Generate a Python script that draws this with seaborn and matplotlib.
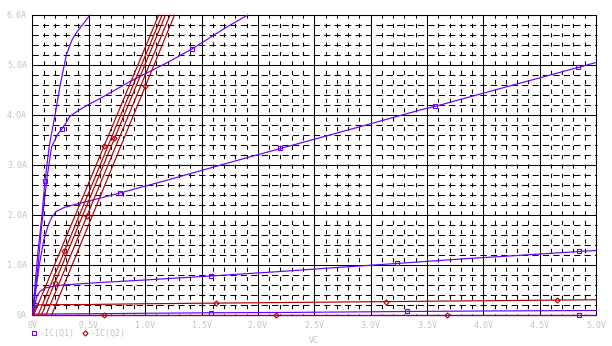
import matplotlib
matplotlib.use("Agg")
import matplotlib.pyplot as plt
from matplotlib.lines import Line2D
import numpy as np
import pandas as pd
import seaborn as sns

BLUE = "#6a00ff"
RED = "#b00000"
GREY = "#c4c4c4"

# -IC(Q1) traces (V, A)
q1_a_v = [0, 0.01, 0.03, 0.05, 0.08, 0.11, 0.15, 0.2, 0.25, 0.3, 0.35, 0.4, 0.45, 0.51]
q1_a_i = [0, 0.25, 0.8, 1.3, 1.9, 2.67, 3.4, 4.0, 4.65, 5.2, 5.5, 5.68, 5.82, 6.0]
q1_b_v = [0, 0.02, 0.05, 0.08, 0.126, 0.17, 0.22, 0.26, 0.3, 0.33, 0.4, 0.49, 0.6,
          0.865, 1.19, 1.415, 1.71, 1.91]
q1_b_i = [0, 0.4, 1.0, 1.77, 2.7, 3.37, 3.6, 3.72, 3.85, 3.97, 4.08, 4.2, 4.33,
          4.67, 5.04, 5.32, 5.74, 6.0]
q1_c_v = [0, 0.03, 0.06, 0.1, 0.14, 0.17, 0.21, 0.28, 0.36, 0.5, 0.776, 1.2, 1.75,
          2.2, 2.8, 3.44, 3.57, 4.2, 4.84, 5.0]
q1_c_i = [0, 0.5, 1.0, 1.5, 1.8, 1.95, 2.07, 2.15, 2.2, 2.28, 2.44, 2.7, 3.05,
          3.33, 3.7, 4.1, 4.17, 4.56, 4.95, 5.05]
q1_d_v = [0, 0.02, 0.04, 0.066, 0.11, 0.2, 0.27, 0.6, 1.0, 1.58, 2.2, 2.7, 3.23,
          3.8, 4.3, 4.85, 5.0]
q1_d_i = [0, 0.2, 0.38, 0.47, 0.54, 0.58, 0.6, 0.65, 0.7, 0.78, 0.87, 0.95, 1.03,
          1.12, 1.19, 1.27, 1.29]
q1_e_v = [0, 0.03, 0.1, 0.5, 1.58, 2.2, 3.32, 4.0, 5.0]
q1_e_i = [0, 0.02, 0.02, 0.025, 0.045, 0.05, 0.07, 0.08, 0.09]
q1_f_v = [0, 5.0]
q1_f_i = [0, 0]

# -IC(Q2) traces (V, A)
q2_r1_v, q2_r1_i = [0.01, 1.12], [0, 6]
q2_r2_v, q2_r2_i = [0.05, 1.15], [0, 6]
q2_r3_v, q2_r3_i = [0.08, 1.18], [0, 6]
q2_r4_v, q2_r4_i = [0.12, 1.22], [0, 6]
q2_r5_v, q2_r5_i = [0.17, 1.26], [0, 6]
q2_g_v = [0, 0.02, 0.04, 0.1, 0.5, 1.0, 2.0, 3.0, 4.0, 5.0]
q2_g_i = [0, 0.12, 0.2, 0.205, 0.21, 0.225, 0.245, 0.265, 0.285, 0.305]
q2_z_v = [0, 5.0]
q2_z_i = [0, 0]

q1_traces = {
    "a": (q1_a_v, q1_a_i), "b": (q1_b_v, q1_b_i), "c": (q1_c_v, q1_c_i),
    "d": (q1_d_v, q1_d_i), "e": (q1_e_v, q1_e_i), "f": (q1_f_v, q1_f_i),
}
q2_traces = {
    "r1": (q2_r1_v, q2_r1_i), "r2": (q2_r2_v, q2_r2_i), "r3": (q2_r3_v, q2_r3_i),
    "r4": (q2_r4_v, q2_r4_i), "r5": (q2_r5_v, q2_r5_i), "g": (q2_g_v, q2_g_i),
    "z": (q2_z_v, q2_z_i),
}

# marker positions along each trace (by voltage)
q1_marks = {"a": [0.11], "b": [0.26, 1.415], "c": [0.776, 2.2, 3.57, 4.84],
            "d": [0.02, 1.58, 3.23, 4.85], "e": [1.58, 3.32], "f": [4.85]}
q2_marks_v = {"g": [1.63, 3.14, 4.65], "z": [0.63, 2.16, 3.68]}
# steep Q2 traces: markers by current level
q2_marks_i = {"r1": [3.37], "r2": [1.27], "r3": [0.63, 3.53], "r4": [1.97], "r5": [4.57]}

x_ticks = [0, 0.5, 1.0, 1.5, 2.0, 2.5, 3.0, 3.5, 4.0, 4.5, 5.0]
x_labels = ["0V", "0.5V", "1.0V", "1.5V", "2.0V", "2.5V", "3.0V", "3.5V", "4.0V", "4.5V", "5.0V"]
y_ticks = [0, 1, 2, 3, 4, 5, 6]
y_labels = ["0A", "1.0A", "2.0A", "3.0A", "4.0A", "5.0A", "6.0A"]

rows = []
for dev, traces in (("Q1", q1_traces), ("Q2", q2_traces)):
    for name, (v, i) in traces.items():
        for vv, ii in zip(v, i):
            rows.append({"V": vv, "I": ii, "trace": dev + name, "device": dev})
df = pd.DataFrame(rows)

sns.set_theme(style="white")
plt.rcParams["font.family"] = ["DejaVu Sans Mono"]

fig = plt.figure(figsize=(6.12, 3.46), dpi=100)
ax = fig.add_axes([0.0531, 0.0896, 0.9208, 0.8671])

# grid: solid at ticks, dashed minor lines
for x in np.arange(0, 5.001, 0.1):
    major = abs(x * 2 - round(x * 2)) < 1e-6
    ax.axvline(x, color="black", lw=0.75, zorder=0,
               ls="-" if major else (3, (4, 5)))
for y in np.arange(0, 6.001, 0.2):
    major = abs(y - round(y)) < 1e-6
    ax.axhline(y, color="black", lw=0.75, zorder=0,
               ls="-" if major else (0, (6, 4)))

n_grid = len(ax.lines)
sns.lineplot(data=df, x="V", y="I", units="trace", estimator=None, hue="device",
             palette={"Q1": BLUE, "Q2": RED}, sort=False, legend=False,
             lw=0.85, ax=ax, zorder=3)
for ln in ax.lines[n_grid:]:
    ln.set_clip_on(False)

for name, vs in q1_marks.items():
    v, i = q1_traces[name]
    ax.plot(vs, np.interp(vs, v, i), ls="none", marker="s", ms=3.3,
            mfc="none", mec=BLUE, mew=0.8, zorder=4, clip_on=False)
for name, vs in q2_marks_v.items():
    v, i = q2_traces[name]
    ax.plot(vs, np.interp(vs, v, i), ls="none", marker="D", ms=2.6,
            mfc="none", mec=RED, mew=0.8, zorder=4, clip_on=False)
for name, levels in q2_marks_i.items():
    v, i = q2_traces[name]
    ax.plot(np.interp(levels, i, v), levels, ls="none", marker="D", ms=2.6,
            mfc="none", mec=RED, mew=0.8, zorder=4)

ax.set_xlim(0, 5.0)
ax.set_ylim(0, 6.0)
ax.set_xticks(x_ticks)
ax.set_xticklabels(x_labels)
ax.set_yticks(y_ticks)
ax.set_yticklabels(y_labels)
ax.tick_params(length=0, labelsize=6, labelcolor=GREY, pad=4)
ax.set_xlabel("VC", fontsize=6, color=GREY, labelpad=5)
ax.set_ylabel("")
for s in ax.spines.values():
    s.set_color("black")
    s.set_linewidth(0.75)

handles = [
    Line2D([], [], ls="none", marker="s", ms=3.3, mfc="none", mec=BLUE, mew=0.8),
    Line2D([], [], ls="none", marker="D", ms=2.6, mfc="none", mec=RED, mew=0.8),
]
fig.legend(handles, ["-IC(Q1)", "-IC(Q2)"], loc="center left",
           bbox_to_anchor=(0.05, 0.036), ncol=2, frameon=False, fontsize=6,
           labelcolor=GREY, handlelength=0.8, handletextpad=0.3,
           columnspacing=0.8, borderpad=0, borderaxespad=0)

fig.savefig("out.png", dpi=100)
